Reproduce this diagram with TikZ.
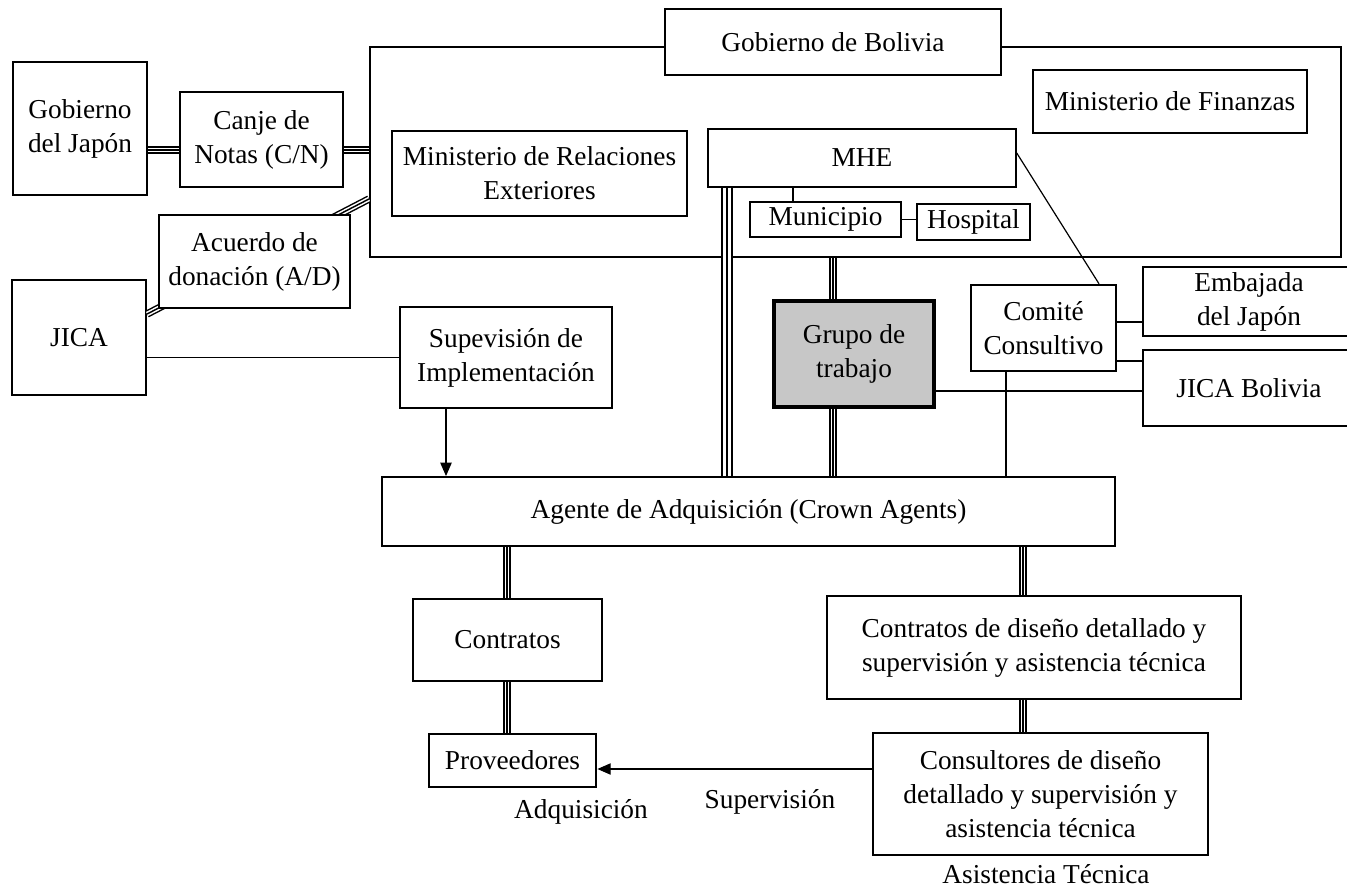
\documentclass[tikz,border=0pt]{standalone}
\usepackage{fontspec}
\setmainfont{Liberation Serif}
\usetikzlibrary{arrows.meta}
\begin{document}
\begin{tikzpicture}[x=0.75pt,y=-0.75pt,
  % span={x1}{y1}{x2}{y2}: rectangle given by two corners
  span/.style n args={4}{minimum width={(#3-#1)*0.75pt}, minimum height={(#4-#2)*0.75pt},
    at={({(#1+#3)/2},{(#2+#4)/2})}},
  txt/.style={font=\fontsize{20.5}{25.5}\selectfont, align=center},
  box/.style={txt, draw, line width=1.1pt, fill=white, inner sep=0pt},
  boldbox/.style={box, line width=2.1pt},
  link/.style={draw, line width=0.9pt},
  triple/.style={draw, line width=1.1pt,
    preaction={draw, line width=5.6pt},
    preaction={draw, white, line width=3.4pt}},
  heavytriple/.style={draw, line width=2.2pt,
    preaction={draw, line width=9.6pt},
    preaction={draw, white, line width=5.6pt}},
  arrow/.style={link, -{Triangle[length=10pt, width=8.5pt]}}
]
\useasboundingbox (0,0) rectangle (1347,889);

% Gobierno de Bolivia frame
\node[draw, line width=1.6pt, inner sep=0pt, span={370}{47}{1341}{257}] (bol) {};

% Japanese side
\node[box, line width=1.6pt, span={13}{62}{147}{195}] (japon) {Gobierno\\del Japón};
\node[box, line width=1.6pt, span={12}{280}{146}{395}] (jica) {JICA};
\node[box, span={180}{92}{343}{187}] (canje) {Canje de\\Notas (C/N)};

% triple lines of the exchange of notes and the grant agreement
\coordinate (tn) at (0,150);
\coordinate (ad1) at (0,314);
\coordinate (ad2) at (0,199);
\draw[triple] (japon.east |- tn) -- (canje.west |- tn);
\draw[triple] (canje.east |- tn) -- (bol.west |- tn);
\draw[triple] (jica.east |- ad1) -- (bol.west |- ad2);
\node[box, span={159}{215}{350}{308}] (acuerdo) {Acuerdo de\\donación (A/D)};

% boxes inside the government frame
\node[box, span={665}{9}{1001}{75}] (gob) {Gobierno de Bolivia};
\node[box, span={1033}{70}{1307}{133}] (fin) {Ministerio de Finanzas};
\node[box, span={392}{131}{687}{216}] (rree) {Ministerio de Relaciones\\Exteriores};
\node[box, span={708}{129}{1016}{187}] (mhe) {MHE};
\node[box, span={750}{202}{901}{237}] (mun) {Municipio};
\node[box, span={917}{204}{1030}{240}] (hos) {Hospital};

\coordinate (m1) at (793,0);
\draw[link] (mhe.south -| m1) -- (mun.north -| m1);
\draw[link] (mun.east) -- (mun.east -| hos.west);

% middle row
\node[box, span={400}{307}{612}{408}] (sup) {Supevisión de\\Implementación};
\node[boldbox, line width=2.6pt, fill=black!22, span={774}{301}{934}{407}] (grupo) {Grupo de\\trabajo};
\node[boldbox, line width=1.8pt, span={971}{285}{1116}{371}] (comite) {Comité\\Consultivo};
\node[box, span={1143}{267}{1355}{336}] (emb) {Embajada\\del Japón};
\node[box, span={1143}{350}{1355}{426}] (jbol) {JICA Bolivia};

% procurement agent and contracts
\node[box, line width=1.4pt, span={382}{477}{1115}{546}] (agente) {Agente de Adquisición (Crown Agents)};
\node[box, span={413}{599}{602}{681}] (contratos) {Contratos};
\node[box, span={827}{596}{1241}{699}] (cdis) {Contratos de diseño detallado y\\supervisión y asistencia técnica};
\node[boldbox, span={429}{734}{596}{787}] (prov) {Proveedores};
\node[boldbox, span={873}{733}{1208}{855}] (cons) {Consultores de diseño\\detallado y supervisión y\\asistencia técnica};

% plain connectors
\coordinate (cm) at (1099,0);
\coordinate (e1) at (0,322);
\coordinate (e2) at (0,361);
\coordinate (e3) at (0,391);
\coordinate (e4) at (1006,0);
\coordinate (a1) at (446,0);
\coordinate (s2) at (0,769);
\coordinate (d1) at (0,153);
\draw[link] (mhe.east |- d1) -- (comite.north -| cm);
\draw[link] (comite.east |- e1) -- (emb.west |- e1);
\draw[link] (comite.east |- e2) -- (jbol.west |- e2);
\draw[link] (grupo.east |- e3) -- (jbol.west |- e3);
\draw[link] (comite.south -| e4) -- (agente.north -| e4);
\draw[link] (jica.east |- sup.west) -- (sup.west);
\draw[arrow] (sup.south -| a1) -- (agente.north -| a1);
\draw[arrow] (cons.west |- s2) -- (prov.east |- s2);

% triple lines to the procurement agent and below
\coordinate (t1) at (727,0);
\coordinate (t2) at (833,0);
\coordinate (t3) at (507,0);
\coordinate (t4) at (1023,0);
\draw[heavytriple] (mhe.south -| t1) -- (agente.north -| t1);
\draw[triple] (bol.south -| t2) -- (grupo.north -| t2);
\draw[triple] (grupo.south -| t2) -- (agente.north -| t2);
\draw[triple] (agente.south -| t3) -- (contratos.north -| t3);
\draw[triple] (contratos.south -| t3) -- (prov.north -| t3);
\draw[triple] (agente.south -| t4) -- (cdis.north -| t4);
\draw[triple] (cdis.south -| t4) -- (cons.north -| t4);

% free labels
\node[txt] (ladq) at (581,812) {Adquisición};
\node[txt] (lsup) at (770,802) {Supervisión};
\node[txt] (lat) at (1046,874) {Asistencia Técnica};
\end{tikzpicture}
\end{document}
